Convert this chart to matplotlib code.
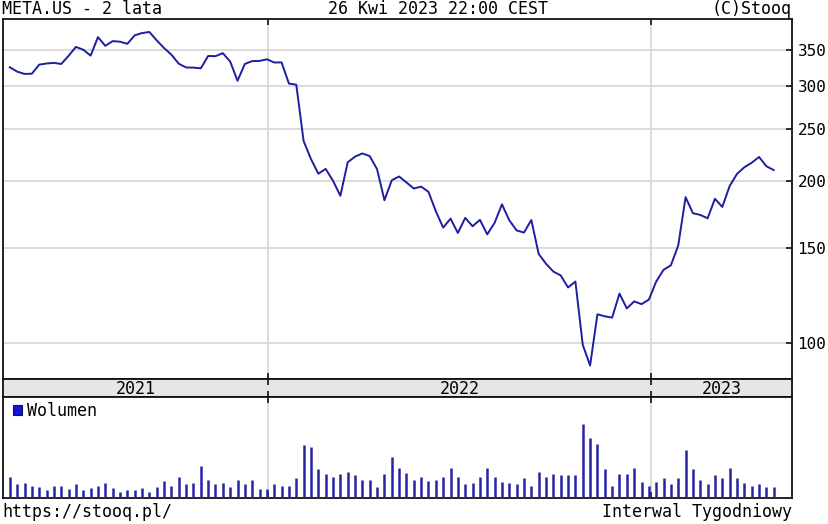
import matplotlib
matplotlib.use('Agg')
import matplotlib.pyplot as plt
import matplotlib.dates as mdates
from matplotlib.ticker import NullLocator, FixedLocator
import pandas as pd

# ---- data (weekly) ----
dates = pd.date_range('2021-04-30', periods=105, freq='W-FRI')
close = [325.08, 319.08, 315.94, 316.23, 328.73, 330.35, 331.26, 329.66, 341.37, 354.70,
         350.42, 341.66, 369.79, 356.30, 363.51, 362.65, 359.37, 372.63, 376.26, 378.00,
         364.72, 352.96, 343.01, 330.05, 324.76, 324.61, 323.57, 341.13, 340.89, 345.30,
         333.12, 306.84, 329.75, 333.79, 334.00, 336.35, 331.79, 331.90, 303.17, 301.71,
         237.09, 219.55, 206.16, 210.48, 200.06, 187.61, 216.49, 221.82, 224.85, 222.33,
         210.18, 184.11, 200.47, 203.77, 198.62, 193.54, 195.13, 190.78, 175.57, 163.74,
         170.16, 160.03, 170.71, 164.70, 169.27, 159.10, 167.11, 180.89, 168.96, 161.78,
         160.32, 169.15, 146.29, 140.30, 135.68, 133.45, 126.76, 130.01, 99.20, 90.79,
         113.02, 112.05, 111.41, 123.49, 115.90, 119.43, 118.04, 120.34, 130.02, 136.71,
         139.37, 151.74, 186.53, 174.15, 172.88, 170.39, 185.25, 178.85, 195.61, 206.01,
         211.94, 216.10, 221.49, 212.89, 209.40]
volume_m = [128, 84, 92, 74, 68, 48, 70, 74, 54, 82,
            48, 58, 74, 92, 58, 38, 48, 48, 58, 38,
            68, 102, 74, 128, 84, 92, 192, 108, 84, 92,
            68, 108, 84, 108, 54, 54, 82, 74, 74, 118,
            318, 308, 172, 144, 128, 144, 154, 138, 108, 108,
            68, 144, 244, 182, 148, 108, 128, 102, 108, 128,
            182, 128, 84, 92, 128, 182, 128, 98, 88, 82,
            118, 74, 154, 128, 144, 138, 138, 138, 442, 362,
            324, 172, 74, 144, 144, 182, 98, 74, 98, 118,
            84, 118, 288, 172, 108, 82, 138, 118, 182, 118,
            92, 74, 82, 68, 64]
price_ticks = [100, 150, 200, 250, 300, 350]
years = ['2021', '2022', '2023']

title_left = 'META.US - 2 lata'
title_mid = '26 Kwi 2023 22:00 CEST'
title_right = '(C)Stooq'
foot_left = 'https://stooq.pl/'
foot_right = 'Interwal Tygodniowy'
legend_label = 'Wolumen'

# ---- style ----
plt.rcParams['font.family'] = ['DejaVu Sans Mono', 'DejaVu Sans']
LINE = '#1e1ea0'
BAR = '#2424a6'
GRID = '#d6d6d6'
FS = 12

W, H = 829, 524
fig = plt.figure(figsize=(W / 100, H / 100), dpi=100)
fig.patch.set_facecolor('white')


def rect(l, t, r, b):
    return [l / W, 1 - b / H, (r - l) / W, (b - t) / H]


ax = fig.add_axes(rect(3, 19, 792, 379))
band = fig.add_axes(rect(3, 379, 792, 397))
axv = fig.add_axes(rect(3, 397, 792, 498))

xl = (mdates.date2num(pd.Timestamp('2021-04-23 12:00')),
      mdates.date2num(pd.Timestamp('2023-05-15 10:00')))
bounds = [mdates.date2num(pd.Timestamp(f'{y}-01-01')) for y in years[1:]]

for a in (ax, band, axv):
    a.set_xlim(*xl)
    for s in a.spines.values():
        s.set_linewidth(1.3)
        s.set_color('#111111')
    a.xaxis.set_major_locator(FixedLocator(bounds))
    a.xaxis.set_minor_locator(NullLocator())
    a.tick_params(axis='x', direction='in', length=4, width=1.2, top=True,
                  bottom=True, labelbottom=False, labeltop=False, color='#111111')

# price
ax.set_yscale('log')
ax.set_ylim(85.7, 399.6)
for b in bounds:
    ax.axvline(b, color=GRID, lw=1.2, zorder=0)
for t in price_ticks:
    ax.axhline(t, color=GRID, lw=1.2, zorder=0)
ax.plot(mdates.date2num(dates), close, color=LINE, lw=1.4, zorder=3)
ax.yaxis.tick_right()
ax.yaxis.set_major_locator(FixedLocator(price_ticks))
ax.yaxis.set_minor_locator(NullLocator())
ax.set_yticklabels([str(t) for t in price_ticks])
ax.tick_params(axis='y', direction='in', length=4, width=1.2, pad=4,
               labelsize=11.5, color='#111111')

# year band
band.set_facecolor('#e6e6e6')
band.set_yticks([])
edges = [xl[0]] + bounds + [xl[1]]
for i, y in enumerate(years):
    band.text((edges[i] + edges[i + 1]) / 2, 0.45, y, ha='center', va='center',
              fontsize=FS, transform=band.get_xaxis_transform())

# volume
for b in bounds:
    axv.axvline(b, color=GRID, lw=1.2, zorder=0)
axv.vlines(mdates.date2num(dates), 0, volume_m, color=BAR, lw=1.8, zorder=3)
axv.set_ylim(0, 606)
axv.set_yticks([])
axv.add_patch(plt.Rectangle((10 / 789, 0.82), 9 / 789, 0.10, transform=axv.transAxes,
                            facecolor='#1414d2', edgecolor='#101060', lw=0.8, zorder=4))
axv.text(24 / 789, 0.865, legend_label, transform=axv.transAxes, fontsize=FS,
         va='center', ha='left')

# header / footer
fig.text(2 / W, 1 - 9 / H, title_left, fontsize=FS, ha='left', va='center')
fig.text(438 / W, 1 - 9 / H, title_mid, fontsize=FS, ha='center', va='center')
fig.text(792 / W, 1 - 9 / H, title_right, fontsize=FS, ha='right', va='center')
fig.text(2 / W, 1 - 512 / H, foot_left, fontsize=FS, ha='left', va='center')
fig.text(792 / W, 1 - 512 / H, foot_right, fontsize=FS, ha='right', va='center')

fig.savefig('out.png', dpi=100, facecolor='white')
